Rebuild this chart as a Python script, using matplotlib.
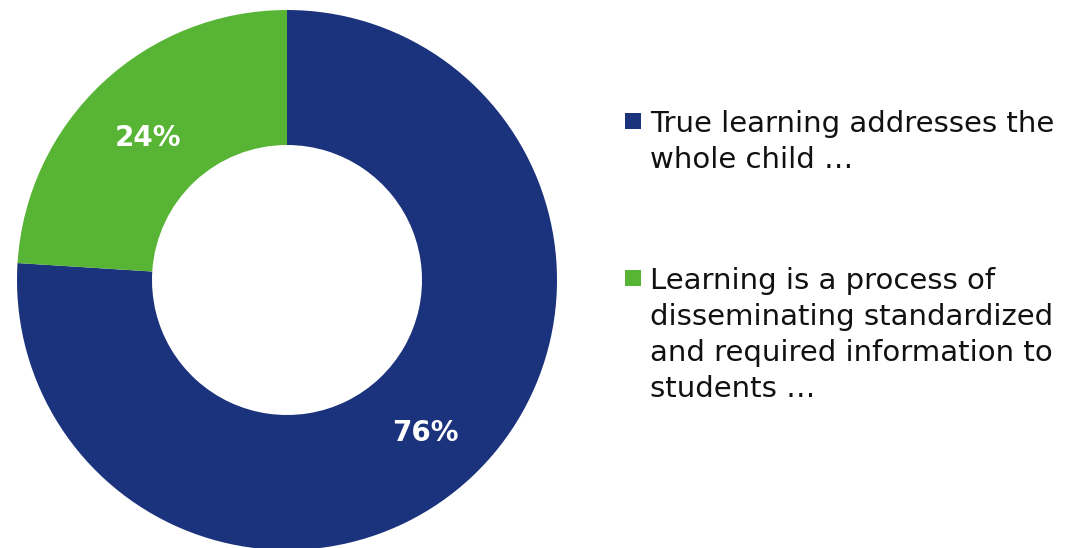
import matplotlib.pyplot as plt
from matplotlib.patches import Rectangle

# Share of respondents for each statement
labels = ["True learning addresses the\nwhole child \u2026",
          "Learning is a process of\ndisseminating standardized\nand required information to\nstudents \u2026"]
values = [76, 24]
colors = ["#1B327D", "#58B434"]

fig = plt.figure(figsize=(10.7, 5.48), dpi=100)
ax = fig.add_axes([17 / 1070, -2 / 548, 540 / 1070, 540 / 548])

wedges, texts, autotexts = ax.pie(
    values, colors=colors, startangle=90, counterclock=False,
    autopct=lambda p: f"{p:.0f}%", pctdistance=0.75,
    wedgeprops=dict(width=0.5, linewidth=0),
)
for t in autotexts:
    t.set_color("white")
    t.set_fontsize(20)
    t.set_fontweight("bold")
    x, y = t.get_position()
    t.set_position((x, y - 0.02))
ax.set_aspect("equal")
ax.set_xlim(-1, 1)
ax.set_ylim(-1, 1)

# Legend drawn by hand so the box sits on the first line of each label
entry_tops = [113, 270]
for lab, col, top in zip(labels, colors, entry_tops):
    fig.patches.append(Rectangle((625 / 1070, 1 - (top + 16) / 548), 16 / 1070, 16 / 548,
                                 transform=fig.transFigure, facecolor=col, edgecolor="none"))
    fig.text(650 / 1070, 1 - (top - 3) / 548, lab, ha="left", va="top",
             fontsize=21, color="#111111", linespacing=1.36)

fig.savefig("out.png", dpi=100)
